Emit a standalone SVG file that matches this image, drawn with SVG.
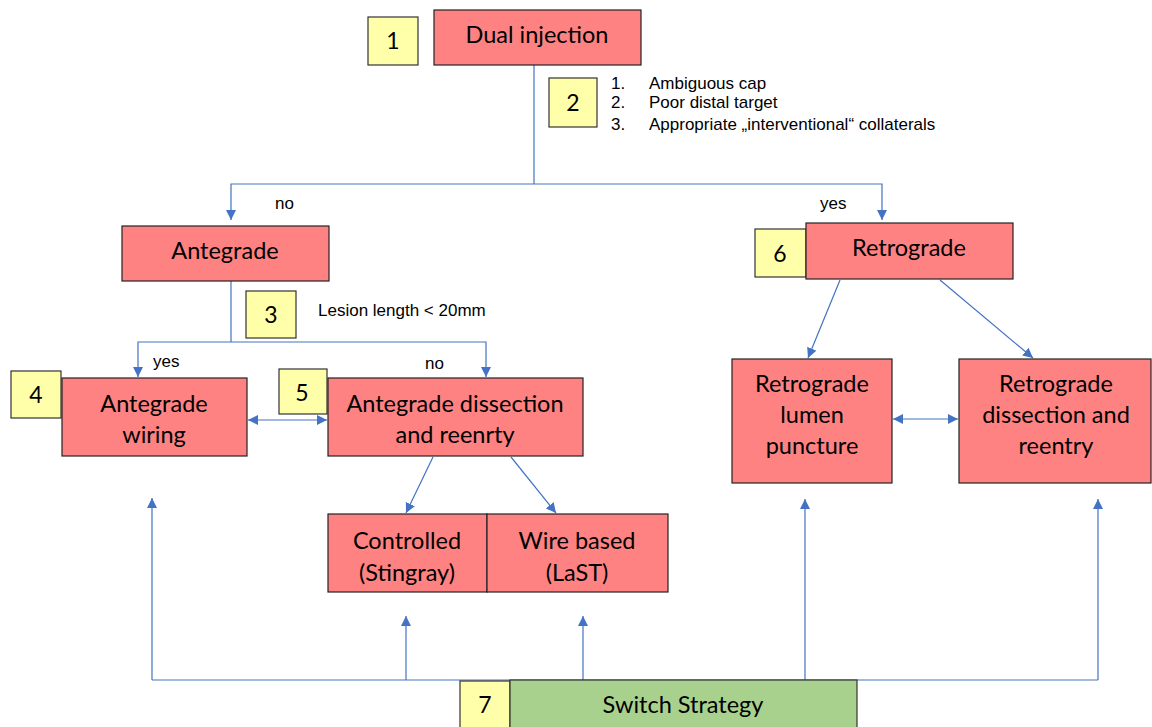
<svg xmlns="http://www.w3.org/2000/svg" width="1152" height="727" viewBox="0 0 1152 727">
<defs>
<marker id="ah" viewBox="0 0 10 10" refX="10" refY="5" markerWidth="10" markerHeight="10" markerUnits="userSpaceOnUse" orient="auto-start-reverse">
<path d="M0,0 L10,5 L0,10 z" fill="#4472C4"/>
</marker>
<style>
.box{fill:#FF8282;stroke:#222;stroke-width:1.2}
.num{fill:#FFFFAA;stroke:#333;stroke-width:1.2}
.grn{fill:#A9D18E;stroke:#333;stroke-width:1.2}
.t{font-family:Lato,"Open Sans",sans-serif;font-size:23.5px;fill:#000;text-anchor:middle}
.n{font-family:Lato,"Open Sans",sans-serif;font-size:23px;fill:#000;text-anchor:middle}
.s{font-family:"Liberation Sans",Arial,sans-serif;font-size:17px;fill:#000}
.c{fill:none;stroke:#4472C4;stroke-width:1.2}
.a{marker-end:url(#ah)}
.d{marker-start:url(#ah);marker-end:url(#ah)}
</style>
</defs>
<rect width="1152" height="727" fill="#fff"/>
<g id="connectors">
<polyline class="c" points="534,65 534,184"/>
<polyline class="c a" points="534,184 231,184 231,220"/>
<polyline class="c a" points="534,184 882,184 882,220"/>
<polyline class="c" points="231,281 231,342"/>
<polyline class="c a" points="231,342 138,342 138,377"/>
<polyline class="c a" points="231,342 486,342 486,377"/>
<line class="c d" x1="248" y1="420" x2="327" y2="420"/>
<line class="c a" x1="433" y1="457" x2="406" y2="513"/>
<line class="c a" x1="511" y1="457" x2="556" y2="513"/>
<line class="c a" x1="840" y1="280" x2="808" y2="358"/>
<line class="c a" x1="940" y1="280" x2="1033" y2="358"/>
<line class="c d" x1="893" y1="419" x2="958" y2="419"/>
<polyline class="c" points="152,680 1098,680"/>
<line class="c a" x1="152" y1="680" x2="152" y2="498"/>
<line class="c a" x1="406" y1="680" x2="406" y2="616"/>
<line class="c a" x1="583" y1="680" x2="583" y2="616"/>
<line class="c a" x1="805" y1="680" x2="805" y2="499"/>
<line class="c a" x1="1098" y1="680" x2="1098" y2="499"/>
</g>
<g id="n1"><rect class="num" x="368" y="17" width="50" height="48"/><text class="n" x="393" y="49">1</text></g>
<g id="dual"><rect class="box" x="434" y="10" width="207" height="55"/><text class="t" x="537" y="43">Dual injection</text></g>
<g id="n2"><rect class="num" x="549" y="78" width="48" height="49"/><text class="n" x="573" y="111">2</text></g>
<g id="criteria">
<text class="s" x="611" y="89">1.</text><text class="s" x="649" y="89">Ambiguous cap</text>
<text class="s" x="611" y="108">2.</text><text class="s" x="649" y="108">Poor distal target</text>
<text class="s" x="611" y="130">3.</text><text class="s" x="649" y="130">Appropriate „interventional“ collaterals</text>
</g>
<g id="lbl-no1"><text class="s" x="275" y="209">no</text></g>
<g id="lbl-yes1"><text class="s" x="820" y="209">yes</text></g>
<g id="antegrade"><rect class="box" x="122" y="226" width="207" height="55"/><text class="t" x="225" y="259">Antegrade</text></g>
<g id="n6"><rect class="num" x="755" y="229" width="51" height="48"/><text class="n" x="780" y="262">6</text></g>
<g id="retrograde"><rect class="box" x="806" y="223" width="207" height="56"/><text class="t" x="909" y="256">Retrograde</text></g>
<g id="n3"><rect class="num" x="246" y="291" width="50" height="47"/><text class="n" x="271" y="323">3</text></g>
<g id="lbl-lesion"><text class="s" x="318" y="316">Lesion length &lt; 20mm</text></g>
<g id="lbl-yes2"><text class="s" x="153" y="367">yes</text></g>
<g id="lbl-no2"><text class="s" x="425" y="369">no</text></g>
<g id="n4"><rect class="num" x="11" y="371" width="50" height="47"/><text class="n" x="36" y="403">4</text></g>
<g id="aw"><rect class="box" x="62" y="378" width="185" height="78"/><text class="t" x="154" y="412">Antegrade</text><text class="t" x="154" y="443">wiring</text></g>
<g id="n5"><rect class="num" x="279" y="369" width="48" height="45"/><text class="n" x="302" y="401">5</text></g>
<g id="adr"><rect class="box" x="328" y="378" width="255" height="78"/><text class="t" x="455" y="412">Antegrade dissection</text><text class="t" x="455" y="443">and reenrty</text></g>
<g id="controlled"><rect class="box" x="328" y="514" width="159" height="78"/><text class="t" x="407" y="549">Controlled</text><text class="t" x="407" y="581">(Stingray)</text></g>
<g id="wire"><rect class="box" x="487" y="514" width="181" height="78"/><text class="t" x="577" y="549">Wire based</text><text class="t" x="577" y="581">(LaST)</text></g>
<g id="rlp"><rect class="box" x="732" y="359" width="160" height="124"/><text class="t" x="812" y="392">Retrograde</text><text class="t" x="812" y="423">lumen</text><text class="t" x="812" y="454">puncture</text></g>
<g id="rdr"><rect class="box" x="959" y="359" width="192" height="124"/><text class="t" x="1056" y="392">Retrograde</text><text class="t" x="1056" y="423">dissection and</text><text class="t" x="1056" y="454">reentry</text></g>
<g id="n7"><rect class="num" x="460" y="681" width="50" height="50"/><text class="n" x="485" y="713">7</text></g>
<g id="switch"><rect class="grn" x="510" y="680" width="347" height="52"/><text class="t" x="683" y="713">Switch Strategy</text></g>
</svg>
